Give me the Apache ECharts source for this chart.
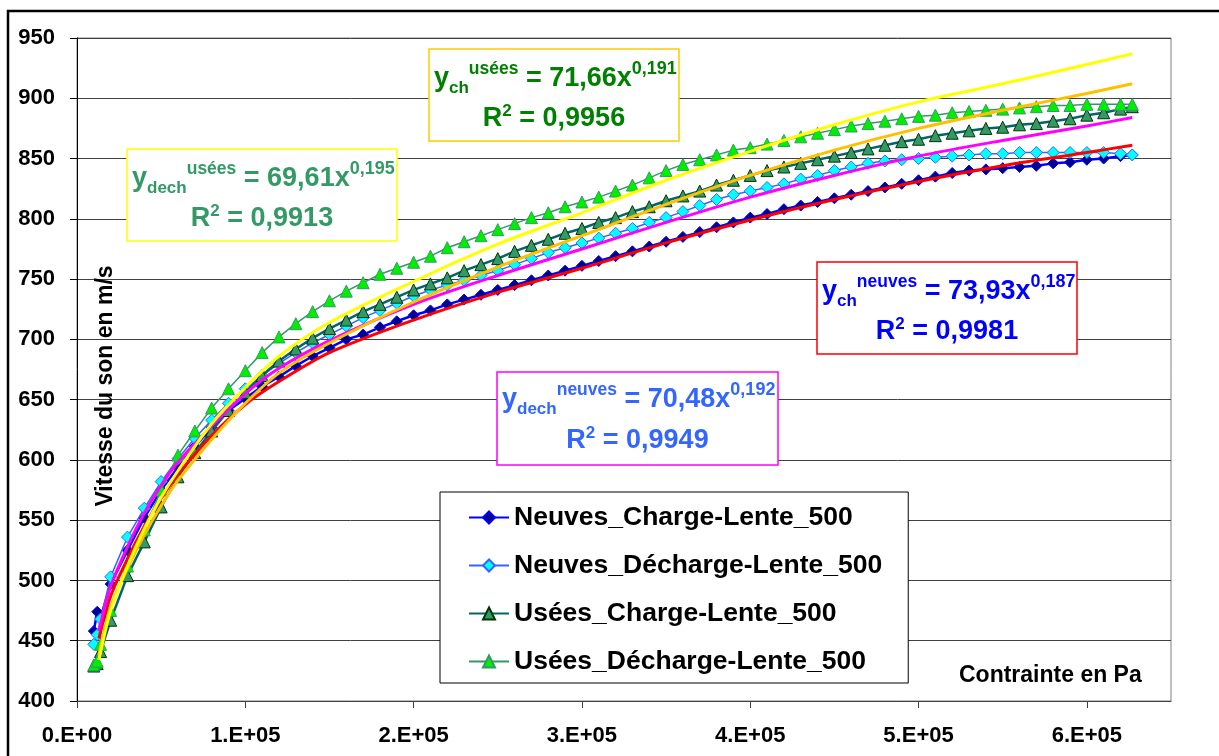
<!DOCTYPE html>
<html><head><meta charset="utf-8">
<script src="https://cdn.jsdelivr.net/npm/echarts@6/dist/echarts.min.js"></script>
<style>html,body{margin:0;padding:0;background:#fff}#c{width:1219px;height:756px}</style>
</head><body><div id="c"></div>
<script>
const FONT = 'Liberation Sans, Arial, Helvetica, sans-serif';

// ---- tick labels ----
const X_TICKS = [0, 100000, 200000, 300000, 400000, 500000, 600000];

// ---- measured series (x = Contrainte en Pa, y = Vitesse du son en m/s) ----
const X_DATA = [10000, 12000, 14000, 20000, 30000, 40000, 50000, 60000, 70000, 80000, 90000,
  100000, 110000, 120000, 130000, 140000, 150000, 160000, 170000, 180000, 190000,
  200000, 210000, 220000, 230000, 240000, 250000, 260000, 270000, 280000, 290000,
  300000, 310000, 320000, 330000, 340000, 350000, 360000, 370000, 380000, 390000,
  400000, 410000, 420000, 430000, 440000, 450000, 460000, 470000, 480000, 490000,
  500000, 510000, 520000, 530000, 540000, 550000, 560000, 570000, 580000, 590000,
  600000, 610000, 620000, 627000];

const neuvesCharge = [458, 474, 469, 497, 525, 552, 575, 594, 611, 627, 641,
  651, 661, 669, 678, 686, 693, 700, 704, 710, 715,
  720, 724, 729, 733, 737, 741, 745, 749, 753, 757,
  761, 765, 769, 773, 777, 781, 785, 789, 793, 797,
  801, 804, 808, 811, 814, 817, 820, 823, 826, 829,
  832, 835, 838, 840, 841, 842, 843, 844, 846, 847,
  849, 850, 852, 853];

const neuvesDecharge = [447, 455, 468, 503, 536, 560, 582, 601, 618, 633, 647,
  659, 670, 680, 689, 697, 704, 711, 718, 724, 730,
  736, 741, 745, 749, 753, 757, 762, 767, 772, 776,
  780, 784, 788, 792, 797, 801, 806, 811, 816, 820,
  823, 826, 829, 833, 836, 840, 843, 846, 848, 849,
  850, 851, 852, 853, 854, 854, 855, 855, 855, 855,
  855, 855, 854, 853];

const useesCharge = [429, 431, 441, 467, 504, 532, 561, 586, 606, 624, 641,
  656, 670, 682, 692, 701, 709, 716, 723, 729, 735,
  741, 746, 751, 757, 762, 767, 773, 778, 783, 788,
  792, 797, 801, 806, 810, 815, 819, 823, 828, 832,
  836, 840, 843, 846, 849, 852, 855, 858, 861, 864,
  866, 869, 871, 873, 875, 876, 878, 879, 881, 883,
  886, 888, 891, 893];

const useesDecharge = [430, 433, 447, 475, 512, 542, 575, 604, 624, 643, 659,
  674, 689, 702, 713, 723, 732, 740, 747, 754, 759,
  764, 769, 776, 781, 786, 791, 796, 801, 805, 810,
  814, 818, 823, 828, 834, 840, 845, 849, 853, 857,
  859, 862, 865, 868, 871, 874, 877, 879, 881, 883,
  885, 886, 888, 889, 890, 891, 892, 893, 894, 894,
  895, 895, 895, 895];

// ---- trend lines ----
const TREND_X = [13000, 20000, 30000, 40000, 50000, 60000, 80000, 100000, 120000, 150000,
  200000, 250000, 300000, 350000, 400000, 450000, 500000, 550000, 600000, 627000];
const trendNeuvesCharge   = [452, 487, 518, 545, 568, 588, 620, 646, 665, 689, 716, 739, 759, 780, 799, 816, 831, 844, 855, 861];
const trendNeuvesDecharge = [458, 495, 528, 556, 579, 598, 628, 655, 676, 699, 729, 753, 775, 797, 818, 836, 852, 865, 877, 884];
const trendUseesCharge    = [438, 478, 510, 538, 562, 583, 617, 647, 672, 697, 731, 760, 786, 812, 836, 857, 875, 890, 904, 912];
const trendUseesDecharge  = [434, 475, 512, 543, 569, 591, 630, 660, 686, 714, 748, 779, 805, 832, 856, 878, 897, 912, 928, 937];

const SERIES_NAMES = ['Neuves_Charge-Lente_500', 'Neuves_D\u00e9charge-Lente_500',
  'Us\u00e9es_Charge-Lente_500', 'Us\u00e9es_D\u00e9charge-Lente_500'];

// ---- equation labels ----
const EQ_SUB = ['dech', 'ch', 'ch', 'dech'];
const EQ_SUP = ['us\u00e9es', 'us\u00e9es', 'neuves', 'neuves'];
const EQ_COEF = ['69,61', '71,66', '73,93', '70,48'];
const EQ_EXP = ['0,195', '0,191', '0,187', '0,192'];
const EQ_R2 = ['0,9913', '0,9956', '0,9981', '0,9949'];

// layout of the equation boxes
const EQ_BOX = [
  {x: 127, y: 149, w: 270, h: 92, l1: 11.5, l2: 52, text: '#339966', border: '#FFFF00'},
  {x: 429, y: 49,  w: 250, h: 92, l1: 11.5, l2: 52, text: '#008000', border: '#FFCC00'},
  {x: 817, y: 262, w: 260, h: 92, l1: 11.5, l2: 52, text: '#0000FF', border: '#FF0000'},
  {x: 497, y: 372, w: 281, h: 93, l1: 9.5,  l2: 51, text: '#3366FF', border: '#FF00FF'}
];

function pairs(xs, ys) { return xs.map((x, i) => [x, ys[i]]); }
function sci(v) {
  if (v === 0) return '0.E+00';
  const e = Math.floor(Math.log10(v) + 1e-9);
  const m = Math.round(v / Math.pow(10, e));
  return m + '.E+' + (e < 10 ? '0' : '') + e;
}

function dataSeries(name, ys, symbol, size, lineColor, fill, border, lw, z) {
  return {
    name, type: 'line', data: pairs(X_DATA, ys), symbol, symbolSize: size,
    showSymbol: true, showAllSymbol: true, animation: false,
    lineStyle: {color: lineColor, width: lw},
    itemStyle: {color: fill, borderColor: border, borderWidth: 1},
    emphasis: {disabled: true}, z
  };
}
function trendSeries(ys, color) {
  return {
    type: 'line', data: pairs(TREND_X, ys), smooth: 0.3,
    showSymbol: false, symbol: 'none',
    lineStyle: {color, width: 3}, z: 6, silent: true, animation: false, emphasis: {disabled: true}
  };
}

const graphics = [];
// outer frame
graphics.push({type: 'rect', z: 0, silent: true, shape: {x: 8, y: 11, width: 1400, height: 900},
  style: {fill: 'none', stroke: '#000', lineWidth: 2.5}});
// axis titles
graphics.push({type: 'text', z: 50, x: 106, y: 386, rotation: Math.PI / 2,
  style: {text: 'Vitesse du son en m/s', align: 'center', verticalAlign: 'middle',
    font: 'bold 23px ' + FONT, fill: '#000'}});
graphics.push({type: 'text', z: 50, x: 959, y: 676,
  style: {text: 'Contrainte en Pa', align: 'left', verticalAlign: 'middle',
    font: 'bold 23px ' + FONT, fill: '#000'}});

EQ_BOX.forEach((b, i) => {
  const base = {fontFamily: FONT, fontWeight: 'bold', fill: b.text};
  const rich = {
    m: Object.assign({fontSize: 27, lineHeight: 36, verticalAlign: 'middle'}, base),
    sub: Object.assign({fontSize: 17, verticalAlign: 'bottom'}, base),
    sup: Object.assign({fontSize: 17.5, verticalAlign: 'top'}, base),
    sup2: Object.assign({fontSize: 18, verticalAlign: 'top'}, base),
    r2: Object.assign({fontSize: 17, verticalAlign: 'top', padding: [2, 0, 0, 0]}, base)
  };
  graphics.push({type: 'rect', z: 40, silent: true,
    shape: {x: b.x, y: b.y, width: b.w, height: b.h},
    style: {fill: '#fff', stroke: b.border, lineWidth: 1.5}});
  graphics.push({type: 'text', z: 41, silent: true, x: b.x + 5, y: b.y + b.l1,
    style: {text: '{m|y}{sub|' + EQ_SUB[i] + '}{sup|' + EQ_SUP[i] + '}{m| = ' + EQ_COEF[i] + 'x}{sup2|' + EQ_EXP[i] + '}',
      rich, align: 'left', verticalAlign: 'top', fill: b.text}});
  graphics.push({type: 'text', z: 41, silent: true, x: b.x + b.w / 2, y: b.y + b.l2,
    style: {text: '{m|R}{r2|2}{m| = ' + EQ_R2[i] + '}', rich, align: 'center', verticalAlign: 'top', fill: b.text}});
});

const chart = echarts.init(document.getElementById('c'), null, {renderer: 'canvas'});
chart.setOption({
  animation: false,
  backgroundColor: '#fff',
  grid: {left: 77, right: 48, top: 38, bottom: 55, show: true, borderColor: '#808080', borderWidth: 1},
  xAxis: {
    type: 'value', min: 0, max: 650000, interval: 100000,
    axisLine: {show: true, onZero: false, lineStyle: {color: '#404040', width: 1}},
    axisTick: {show: true, length: 7, customValues: X_TICKS, lineStyle: {color: '#404040'}},
    axisLabel: {customValues: X_TICKS, formatter: sci, margin: 24, fontSize: 22, fontWeight: 'bold',
      color: '#000', fontFamily: FONT},
    splitLine: {show: false}
  },
  yAxis: {
    type: 'value', min: 400, max: 950, interval: 50,
    axisLine: {show: true, lineStyle: {color: '#000', width: 1}},
    axisTick: {show: true, length: 7, lineStyle: {color: '#000'}},
    axisLabel: {margin: 22, fontSize: 22, fontWeight: 'bold', color: '#000', fontFamily: FONT},
    splitLine: {show: true, lineStyle: {color: '#404040', width: 1}}
  },
  legend: {
    data: SERIES_NAMES, orient: 'vertical', left: 440, top: 492,
    padding: [12, 26, 8, 28], itemGap: 21, itemWidth: 40, itemHeight: 15,
    backgroundColor: '#fff', borderColor: '#000', borderWidth: 1, z: 30,
    textStyle: {fontSize: 26.5, fontWeight: 'bold', color: '#000', fontFamily: FONT},
    selectedMode: false
  },
  series: [
    dataSeries(SERIES_NAMES[0], neuvesCharge, 'diamond', 11, '#0000FF', '#000090', '#0000FF', 2.5, 2),
    dataSeries(SERIES_NAMES[1], neuvesDecharge, 'diamond', 12, '#3366FF', '#00FFFF', '#3366FF', 1.5, 3),
    dataSeries(SERIES_NAMES[2], useesCharge, 'triangle', 12, '#006666', '#339966', '#003300', 2.5, 4),
    dataSeries(SERIES_NAMES[3], useesDecharge, 'triangle', 12, '#339966', '#00EE00', '#339966', 1.5, 5),
    trendSeries(trendNeuvesCharge, '#FF0000'),
    trendSeries(trendNeuvesDecharge, '#FF00FF'),
    trendSeries(trendUseesCharge, '#FFC000'),
    trendSeries(trendUseesDecharge, '#FFFF00')
  ],
  graphic: graphics
});
</script></body></html>
